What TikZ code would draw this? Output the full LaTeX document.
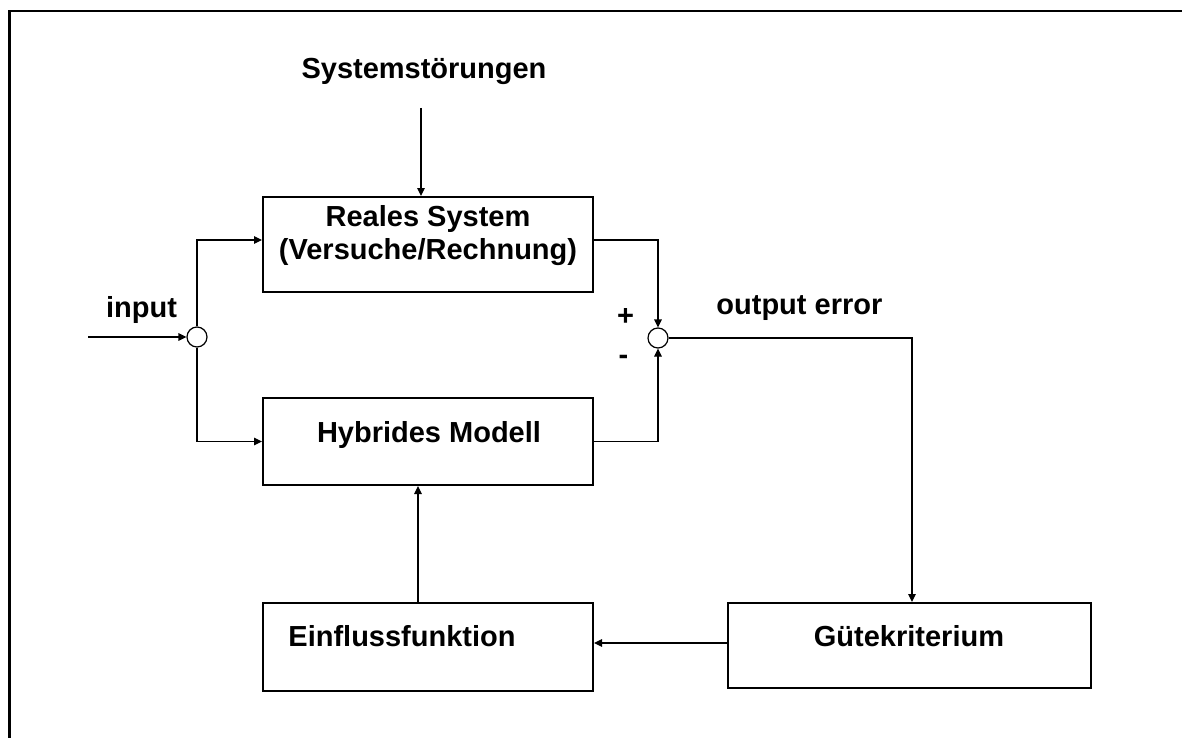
\documentclass[tikz,border=0pt]{standalone}
\usepackage{fontspec}
\setmainfont{Liberation Sans}
\usetikzlibrary{arrows.meta,calc}
\begin{document}
\begin{tikzpicture}[x=0.5pt,y=-0.5pt,
  blockbox/.style={draw,line width=1pt,rectangle,inner sep=0pt},
  sumpt/.style={draw,line width=0.6pt,circle,inner sep=0pt,minimum size=10pt},
  conn/.style={line width=0.6pt},
  arr/.style={conn,-{Triangle[length=4pt,width=3.8pt]}},
  lbl/.style={inner sep=0pt,font=\fontsize{14.5}{18}\selectfont\bfseries}
]
\useasboundingbox (0,0) rectangle (1182,738);
% outer frame (open to the right and bottom)
\draw[line width=1.2pt] (9.5,738) -- (9.5,11) -- (1182,11);

% blocks
\node[blockbox,minimum width=165pt,minimum height=47.5pt] (real)  at (428,244.5) {};
\node[blockbox,minimum width=165pt,minimum height=43.5pt] (hyb)   at (428,441.5) {};
\node[blockbox,minimum width=165pt,minimum height=44pt]   (einfl) at (428,647) {};
\node[blockbox,minimum width=181.5pt,minimum height=42.5pt] (gut) at (909.5,645.5) {};

% block texts
\node[lbl,anchor=base] (realtxt1) at (428,226) {Reales System};
\node[lbl,anchor=base] (realtxt2) at (428,259) {(Versuche/Rechnung)};
\node[lbl,anchor=base] (hybtxt)   at (429,442) {Hybrides Modell};
\node[lbl,anchor=base] (einfltxt) at (402,646) {Einflussfunktion};
\node[lbl,anchor=base] (guttxt)   at (909,646) {Gütekriterium};

% free labels
\node[lbl,anchor=base] (sys)   at (424,79) {Systemstörungen};
\node[lbl,anchor=base] (inp)   at (141.5,317) {input};
\node[lbl,anchor=base west] (oerr) at (716,314) {output error};
\node[lbl] (plus)  at (625.5,317) {+};
\node[lbl] (minus) at (623.5,360) {-};

% summing points
\node[sumpt] (sum1) at (197,337) {};
\node[sumpt] (sum2) at (658,338) {};

% connectors
\coordinate (src) at (88,337);
\draw[arr] (src) -- (sum1.west);
\draw[arr] (sum1.north) |- ($(real.west)+(0,-4.5)$);
\draw[arr] (sum1.south) |- (hyb.west);
\draw[arr] ($(real.east)+(0,-4.5)$) -| (sum2.north);
\draw[arr] (hyb.east) -| (sum2.south);
\draw[arr] (sum2.east) -| ($(gut.north)+(2.5,0)$);
\draw[arr] ($(gut.west)+(0,-2.5)$) coordinate (gw) -- (einfl.east |- gw);
\draw[arr] ($(einfl.north)+(-10,0)$) coordinate (en) -- (hyb.south -| en);
\draw[arr] ($(sys.base)+(-3,29)$) coordinate (ss) -- (real.north -| ss);
\end{tikzpicture}
\end{document}
